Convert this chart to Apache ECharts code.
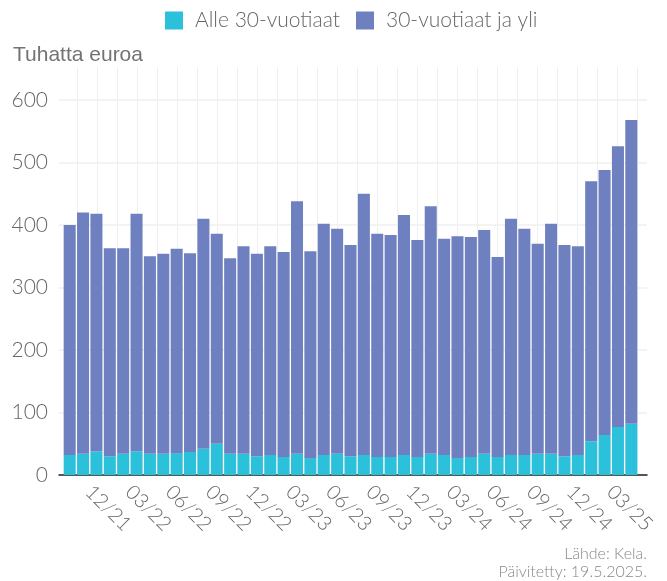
<!DOCTYPE html>
<html>
<head>
<meta charset="utf-8">
<script src="https://cdn.jsdelivr.net/npm/echarts@6/dist/echarts.min.js"></script>
<style>html,body{margin:0;padding:0;background:#fff}#c{width:667px;height:581px}</style>
</head>
<body>
<div id="c"></div>
<script>
var categories = ['11/21','12/21','01/22','02/22','03/22','04/22','05/22','06/22','07/22','08/22','09/22','10/22','11/22','12/22',
  '01/23','02/23','03/23','04/23','05/23','06/23','07/23','08/23','09/23','10/23','11/23','12/23',
  '01/24','02/24','03/24','04/24','05/24','06/24','07/24','08/24','09/24','10/24','11/24','12/24',
  '01/25','02/25','03/25','04/25','05/25'];
var under30 = [32,34,38,30,34,38,34,34,35,37,42,50,34,34,30,32,29,34,27,32,34,30,32,29,29,32,29,34,32,27,29,34,29,32,32,34,34,30,32,54,64,77,82];
var over30 = [368,386,380,333,329,380,316,320,327,318,368,336,313,332,324,334,328,404,331,370,360,338,418,357,355,384,347,396,346,355,352,358,320,378,362,336,368,338,334,416,424,449,486];
var yTicks = [0,100,200,300,400,500,600];

var chart = echarts.init(document.getElementById('c'), null, {renderer:'canvas'});
var gray = '#666666';
chart.setOption({
  animation: false,
  legend: {
    left: 165, top: 10, padding: 0, itemWidth: 18, itemHeight: 18, itemGap: 16, icon: 'rect',
    textStyle: {fontFamily: 'Lato', fontWeight: 300, fontSize: 21, color: gray, padding: [0,0,0,7]},
    data: ['Alle 30-vuotiaat', '30-vuotiaat ja yli']
  },
  graphic: [
    {type:'text', left: 13, top: 45, style:{text:'Tuhatta euroa', fontFamily:'Liberation Sans', fontWeight:'normal', fontSize:21, fill:'#737373'}},
    {type:'text', right: 20, top: 546, style:{text:'Lähde: Kela.', fontFamily:'Lato', fontWeight:300, fontSize:16, fill:'#888', textAlign:'right'}},
    {type:'text', right: 20, top: 564, style:{text:'Päivitetty: 19.5.2025.', fontFamily:'Lato', fontWeight:300, fontSize:16, fill:'#888', textAlign:'right'}}
  ],
  grid: [
    {left: 77, right: 30, top: 67, bottom: 106},
    {left: 59, right: 20, top: 100, bottom: 106},
    {left: 63, right: 29, top: 100, bottom: 106}
  ],
  xAxis: [
    {gridIndex:0, type:'value', min:0, max:28, interval:1, axisLine:{show:false}, axisTick:{show:false}, axisLabel:{show:false},
      splitLine:{show:true, lineStyle:{color:'#efefef', width:1}}},
    {gridIndex:1, type:'value', min:0, max:1, axisLine:{show:true, lineStyle:{color:'#222', width:1.5}}, axisTick:{show:false}, axisLabel:{show:false}, splitLine:{show:false}},
    {gridIndex:2, type:'category', data: categories, axisLine:{show:false}, axisTick:{show:false},
      axisLabel:{rotate:-45, margin:8, fontFamily:'Lato', fontWeight:300, fontSize:20, color:gray, padding:[0,0,7,8],
        interval: function(i){ return i % 3 === 1; }}}
  ],
  yAxis: [
    {gridIndex:0, type:'value', show:false, min:0, max:1},
    {gridIndex:1, type:'value', min:0, max:600, interval:100, axisLine:{show:false}, axisTick:{show:false},
      axisLabel:{margin:11, fontFamily:'Lato', fontWeight:300, fontSize:21, color:gray, formatter:function(v){return yTicks.indexOf(v)>=0? String(v):'';}},
      splitLine:{show:true, lineStyle:{color:'#efefef', width:1.5}}},
    {gridIndex:2, type:'value', show:false, min:0, max:600}
  ],
  series: [
    {name:'Alle 30-vuotiaat', type:'bar', xAxisIndex:2, yAxisIndex:2, stack:'t', data: under30, barCategoryGap:'10%', itemStyle:{color:'#2cc1da'}},
    {name:'30-vuotiaat ja yli', type:'bar', xAxisIndex:2, yAxisIndex:2, stack:'t', data: over30, barCategoryGap:'10%', itemStyle:{color:'#6f80c0'}}
  ]
});
</script>
</body>
</html>
